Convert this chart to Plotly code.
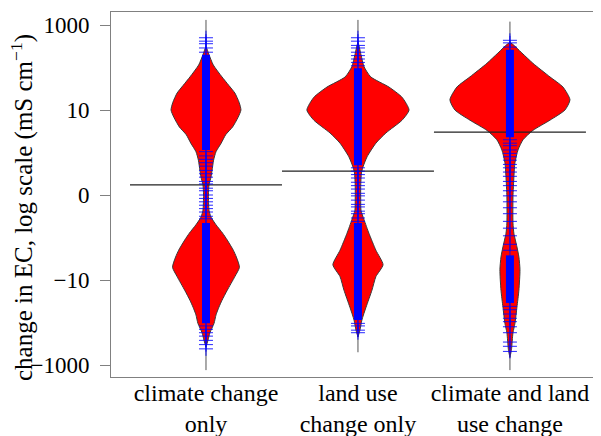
import plotly.graph_objects as go

# ---------------- data (y values are in the axis' log-scale units:
# tick -2 = -1000, -1 = -10, 0 = 0, 1 = 10, 2 = 1000) ----------------
categories = ["climate change<br>only", "land use<br>change only", "climate and land<br>use change"]
positions = [1, 2, 3]
tick_vals = [-2, -1, 0, 1, 2]
tick_text = ["\u22121000", "\u221210", "0", "10", "1000"]
y_title = "change in EC, log scale (mS cm<sup>\u22121</sup>)"

mean_levels = [0.12, 0.28, 0.74]
whisker_top = [2.06, 2.06, 2.04]
whisker_bottom = [-2.06, -1.85, -2.06]

# violin profiles: levels and half-widths (density)
v1_levels = [1.74, 1.65, 1.53, 1.39, 1.29, 1.20, 1.09, 1.00, 0.91, 0.80, 0.71, 0.61, 0.51, 0.41,
             0.29, 0.21, 0.12, 0.0, -0.18, -0.26, -0.35, -0.45, -0.53, -0.65, -0.73, -0.85, -0.96,
             -1.12, -1.24, -1.32, -1.41, -1.51, -1.62, -1.71, -1.79]
v1_width = [0.0, 0.02, 0.048, 0.105, 0.15, 0.19, 0.218, 0.23, 0.21, 0.175, 0.13, 0.1, 0.066, 0.05,
            0.04, 0.033, 0.02, 0.016, 0.02, 0.033, 0.066, 0.11, 0.14, 0.18, 0.2, 0.22, 0.19,
            0.14, 0.105, 0.085, 0.066, 0.053, 0.026, 0.013, 0.0]

v2_levels = [1.79, 1.65, 1.51, 1.39, 1.27, 1.15, 1.0, 0.88, 0.73, 0.61, 0.45, 0.33, 0.26, 0.1,
             -0.05, -0.18, -0.29, -0.45, -0.65, -0.82, -0.96, -1.12, -1.32, -1.47, -1.59, -1.67]
v2_width = [0.0, 0.02, 0.04, 0.084, 0.204, 0.29, 0.336, 0.29, 0.184, 0.118, 0.06, 0.033, 0.023,
            0.018, 0.018, 0.02, 0.04, 0.072, 0.118, 0.165, 0.118, 0.092, 0.053, 0.026, 0.013, 0.0]

v3_levels = [1.79, 1.67, 1.55, 1.39, 1.27, 1.12, 1.0, 0.88, 0.76, 0.65, 0.53, 0.38, 0.21, -0.02,
             -0.33, -0.45, -0.61, -0.73, -0.88, -1.12, -1.32, -1.51, -1.62, -1.82, -1.91]
v3_width = [0.0, 0.079, 0.151, 0.263, 0.349, 0.395, 0.362, 0.263, 0.151, 0.086, 0.053, 0.033,
            0.026, 0.02, 0.02, 0.026, 0.046, 0.059, 0.066, 0.059, 0.046, 0.033, 0.02, 0.01, 0.0]

# observations: dense runs (start, end) and individual sparse points
v1_dense = [(1.65, 0.53), (-0.33, -1.51)]
v2_dense = [(1.49, 0.35), (-0.33, -1.47)]
v3_dense = [(1.71, 0.68), (-0.71, -1.27)]

v1_points = [1.85, 1.81, 1.78, 1.73, 1.68, 0.51, 0.46, 0.42, 0.38, 0.34, 0.29, 0.25, 0.21, 0.16,
             0.13, 0.08, 0.05, 0.0, -0.04, -0.08, -0.12, -0.16, -0.2, -0.25, -0.28,
             -1.54, -1.58, -1.62, -1.66, -1.71, -1.76, -1.81]
v2_points = [1.85, 1.81, 1.76, 1.73, 1.68, 1.64, 1.6, 1.56, 1.52, 0.32, 0.28, 0.24, 0.2, 0.15,
             0.11, 0.07, 0.02, -0.01, -0.06, -0.11, -0.14, -0.19, -0.22, -0.27, -0.31,
             -1.51, -1.54, -1.59, -1.62]
v3_points = [1.82, 1.79, 1.74, 0.65, 0.61, 0.58, 0.53, 0.49, 0.45, 0.41, 0.36, 0.32, 0.27, 0.22,
             0.16, 0.11, 0.05, -0.01, -0.08, -0.15, -0.22, -0.31, -0.39, -0.48, -0.58, -0.65,
             -1.31, -1.35, -1.4, -1.45, -1.49, -1.55, -1.62, -1.73, -1.78, -1.84]

profiles = [(v1_levels, v1_width), (v2_levels, v2_width), (v3_levels, v3_width)]
dense = [v1_dense, v2_dense, v3_dense]
points = [v1_points, v2_points, v3_points]

FONT = "Liberation Serif, Times New Roman, serif"
BLUE = "rgba(0,0,255,0.85)"
fig = go.Figure()

for i, pos in enumerate(positions):
    # whisker
    fig.add_trace(go.Scatter(x=[pos, pos], y=[whisker_top[i], whisker_bottom[i]], mode="lines",
                             line=dict(color="#555555", width=1), hoverinfo="skip"))
    lv, wd = profiles[i]
    xs = [pos + w for w in wd] + [pos - w for w in reversed(wd)]
    ys = list(lv) + list(reversed(lv))
    fig.add_trace(go.Scatter(x=xs, y=ys, mode="lines", fill="toself", fillcolor="#FF0000",
                             line=dict(color="#3a3a3a", width=1, shape="spline", smoothing=0.6),
                             hoverinfo="skip"))

for i, pos in enumerate(positions):
    fig.add_trace(go.Scatter(x=[pos - 0.5, pos + 0.5], y=[mean_levels[i], mean_levels[i]],
                             mode="lines", line=dict(color="#222222", width=1.3), hoverinfo="skip"))

for i, pos in enumerate(positions):
    for (a, b) in dense[i]:
        fig.add_trace(go.Scatter(x=[pos, pos], y=[a, b], mode="lines",
                                 line=dict(color="#0000FF", width=8), hoverinfo="skip"))
    fig.add_trace(go.Scatter(x=[pos] * len(points[i]), y=points[i], mode="markers",
                             marker=dict(symbol="cross-thin", size=10, color=BLUE,
                                         line=dict(color=BLUE, width=1)),
                             hoverinfo="skip"))

# the page body adds an 8 px margin, so the figure is sized/offset to compensate
fig.update_layout(
    width=593, height=428,
    margin=dict(l=103, r=2, t=4, b=59, autoexpand=False),
    paper_bgcolor="white", plot_bgcolor="white",
    showlegend=False,
    font=dict(family=FONT, size=23, color="black"),
    annotations=[dict(text=y_title, textangle=-90, xref="paper", yref="paper",
                      x=0, y=0.463, xanchor="center", yanchor="middle", xshift=-89,
                      showarrow=False, font=dict(family=FONT, size=25, color="black"))],
)
fig.update_xaxes(range=[0.375, 3.586], tickmode="array", tickvals=positions, ticktext=categories,
                 showgrid=False, zeroline=False, showline=True, mirror=True, automargin=False,
                 linecolor="#808080", linewidth=1, ticks="", ticklabelstandoff=-6,
                 tickfont=dict(family=FONT, size=24, color="black"))
fig.update_yaxes(range=[-2.141, 2.153], tickmode="array", tickvals=tick_vals, ticktext=tick_text,
                 showgrid=False, zeroline=False, showline=True, mirror=True, automargin=False,
                 linecolor="#808080", linewidth=1, ticks="outside", ticklen=10,
                 tickcolor="#808080", ticklabelstandoff=6,
                 tickfont=dict(family=FONT, size=23, color="black"))

fig.write_html("out.html")
